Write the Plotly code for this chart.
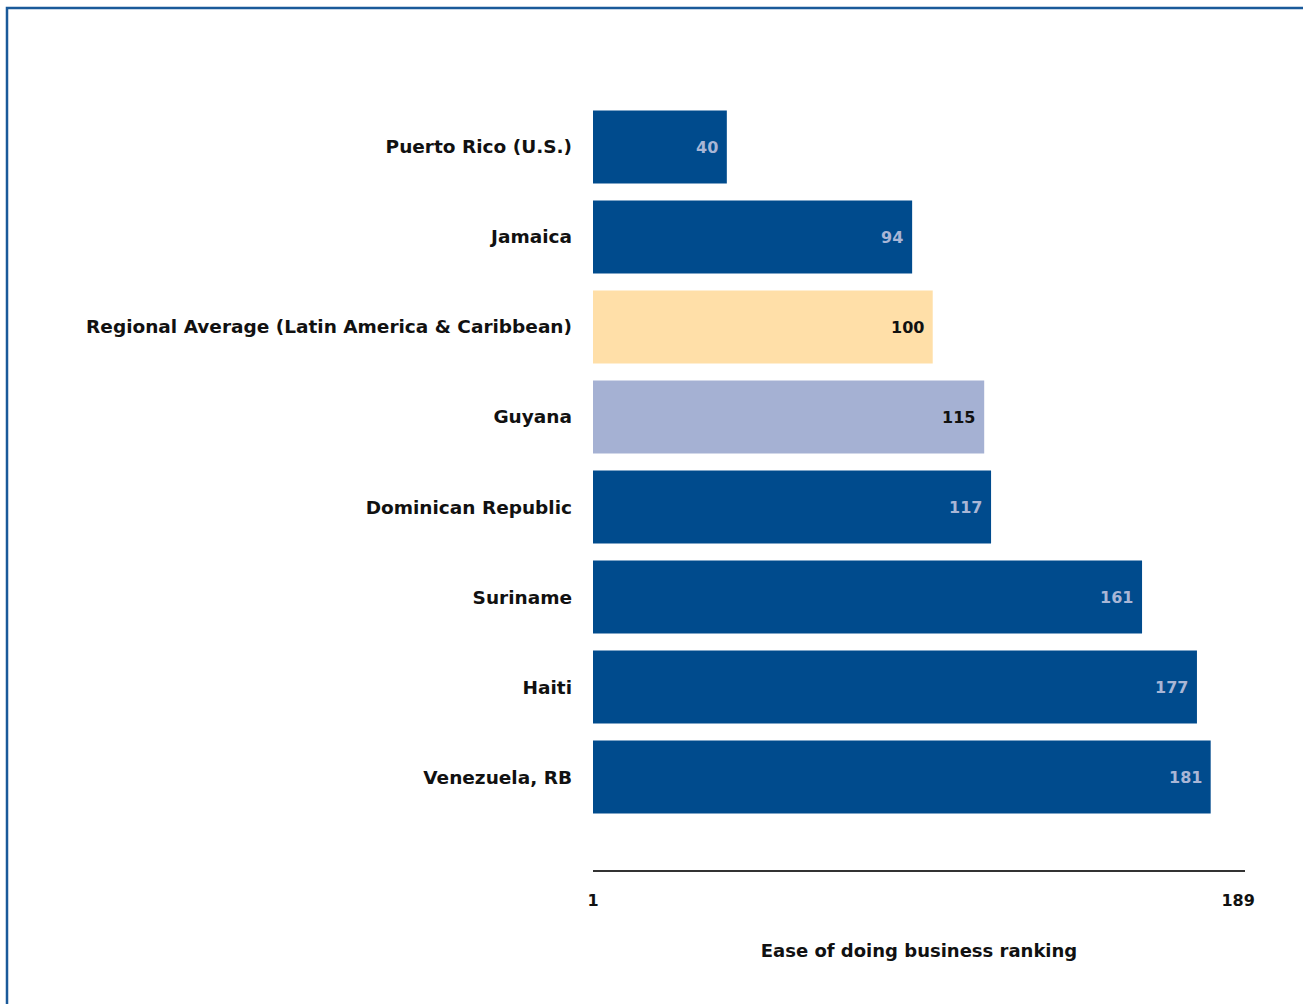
import plotly.graph_objects as go

categories = ["Puerto Rico (U.S.)", "Jamaica", "Regional Average (Latin America & Caribbean)",
              "Guyana", "Dominican Republic", "Suriname", "Haiti", "Venezuela, RB"]
rankings = [40, 94, 100, 115, 117, 161, 177, 181]
bar_colors = ["#004b8d", "#004b8d", "#ffdfa8", "#a5b1d3", "#004b8d", "#004b8d", "#004b8d", "#004b8d"]
label_colors = ["#a9b6d6", "#a9b6d6", "#111111", "#111111", "#a9b6d6", "#a9b6d6", "#a9b6d6", "#a9b6d6"]
x_ticks = [1, 189]
axis_min, axis_max = 1, 191

W, H = 1303, 1004
L, R, T, B = 593, 58, 102, 134
pw, ph = W - L - R, H - T - B
FONT = "DejaVu Sans"

fig = go.Figure(go.Bar(
    y=categories,
    x=[v - axis_min for v in rankings],
    base=axis_min,
    orientation="h",
    width=0.81,
    marker=dict(color=bar_colors, line=dict(width=0)),
    hoverinfo="skip",
))

for cat, v, c in zip(categories, rankings, label_colors):
    fig.add_annotation(x=v, y=cat, text=str(v), showarrow=False,
                       xanchor="right", yanchor="middle", xshift=-7,
                       font=dict(family=FONT, size=16, color=c, weight="bold"))

def px_to_paper_x(px):
    return (px - L) / pw

def py_to_paper_y(py):
    return (H - B - py) / ph

fig.update_layout(
    width=W, height=H,
    margin=dict(l=L, r=R, t=T, b=B),
    paper_bgcolor="white", plot_bgcolor="white",
    showlegend=False,
    xaxis=dict(
        range=[axis_min, axis_max],
        tickvals=x_ticks, ticktext=[str(t) for t in x_ticks],
        showgrid=False, zeroline=False,
        showline=True, linecolor="#333333", linewidth=2,
        ticks="", ticklabelstandoff=15,
        tickfont=dict(family=FONT, size=16, color="#111111", weight="bold"),
        title=dict(text="Ease of doing business ranking", standoff=35,
                   font=dict(family=FONT, size=18, color="#111111", weight="bold")),
    ),
    yaxis=dict(
        range=[len(categories) - 1 + 1.033, -0.5],
        showgrid=False, zeroline=False, showline=False,
        ticks="", ticklabelstandoff=20,
        tickfont=dict(family=FONT, size=18.5, color="#111111", weight="bold"),
    ),
    shapes=[dict(
        type="rect", xref="paper", yref="paper",
        x0=px_to_paper_x(7), x1=px_to_paper_x(W + 20),
        y0=py_to_paper_y(H + 20), y1=py_to_paper_y(8),
        line=dict(color="#1a5a9a", width=2.5), fillcolor="rgba(0,0,0,0)", layer="above",
    )],
)

fig.write_html("out.html", config={"displayModeBar": False},
               post_script="document.body.style.margin='0';")
